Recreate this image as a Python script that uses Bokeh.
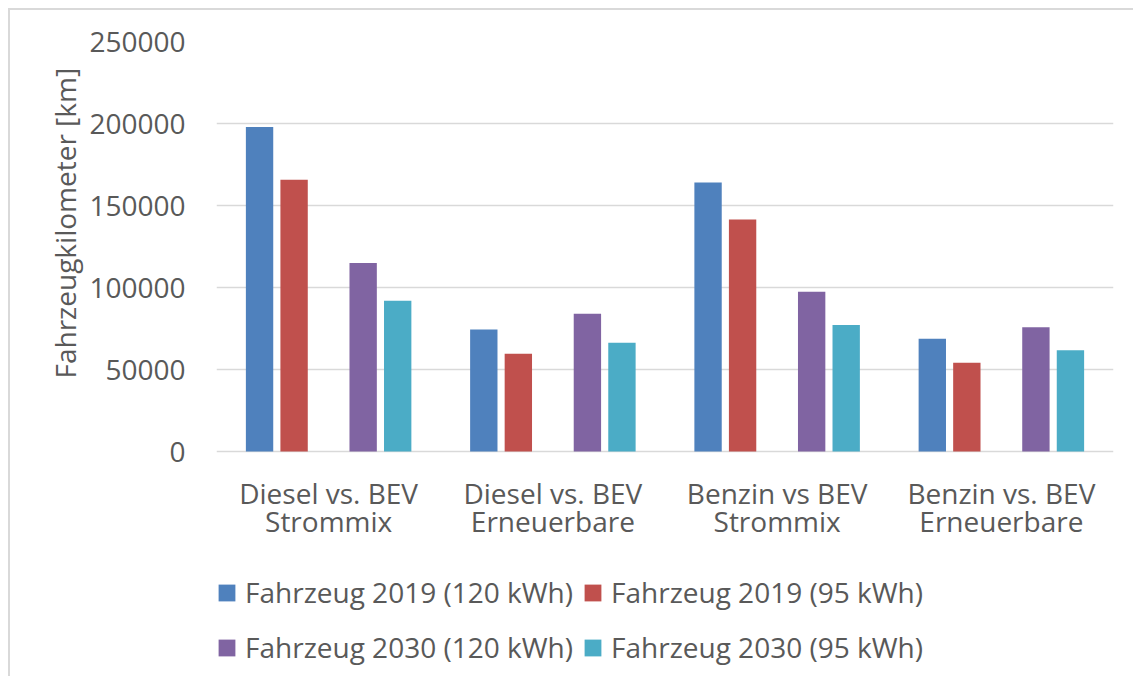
from bokeh.plotting import figure
from bokeh.models import (FactorRange, Range1d, Legend, LegendItem, Title,
                          FixedTicker, NumeralTickFormatter)
from bokeh.transform import dodge
from bokeh.core.properties import value
from bokeh.embed import file_html
from bokeh.resources import INLINE

categories = ["Diesel vs. BEV Strommix", "Diesel vs. BEV Erneuerbare",
              "Benzin vs BEV Strommix", "Benzin vs. BEV Erneuerbare"]
cat_line1 = ["Diesel vs. BEV", "Diesel vs. BEV", "Benzin vs BEV", "Benzin vs. BEV"]
cat_line2 = ["Strommix", "Erneuerbare", "Strommix", "Erneuerbare"]
series_names = ["Fahrzeug 2019 (120 kWh)", "Fahrzeug 2019 (95 kWh)",
                "Fahrzeug 2030 (120 kWh)", "Fahrzeug 2030 (95 kWh)"]
v2019_120 = [197800, 74400, 164000, 68700]
v2019_95 = [165700, 59600, 141500, 54100]
v2030_120 = [115000, 84000, 97400, 75800]
v2030_95 = [91900, 66300, 77200, 61800]
y_ticks = [0, 50000, 100000, 150000, 200000, 250000]
y_title = "Fahrzeugkilometer [km]"

colors = ["#4f81bd", "#c0504d", "#8064a2", "#4bacc6"]
offsets = [-0.308, -0.154, 0.154, 0.308]
FONT = "Open Sans"
TXT = "#595959"

# layout (pixels)
W, H = 1125, 668
B_LEFT, B_RIGHT, B_TOP, B_BOTTOM = 206, 22, 31, 2
ZERO_PX = 410           # distance from frame top to the zero line
frame_h = H - B_TOP - B_BOTTOM
y_max = y_ticks[-1]
y_min = -y_max * (frame_h - ZERO_PX) / ZERO_PX

p = figure(x_range=FactorRange(*categories), y_range=Range1d(y_min, y_max),
           width=W, height=H, output_backend="svg", toolbar_location=None,
           x_axis_location=None,
           min_border_left=B_LEFT, min_border_right=B_RIGHT, min_border_top=B_TOP,
           min_border_bottom=B_BOTTOM)
p.styles = {"margin-left": "8px", "margin-top": "8px",
            "border-top": "2px solid #d9d9d9", "border-left": "2px solid #d9d9d9"}
p.outline_line_color = None
p.background_fill_color = "white"
p.border_fill_color = "white"

data = dict(cat=categories, l1=cat_line1, l2=cat_line2,
            s0=v2019_120, s1=v2019_95, s2=v2030_120, s3=v2030_95)
renderers = []
for i, key in enumerate(["s0", "s1", "s2", "s3"]):
    r = p.vbar(x=dodge("cat", offsets[i], range=p.x_range), top=key, width=0.122,
               source=data, fill_color=colors[i], line_color=None)
    renderers.append(r)

# category labels under the zero line
p.text(x="cat", y=0, text="l1", source=data, y_offset=41,
       text_align="center", text_baseline="alphabetic",
       text_font=value(FONT), text_font_size="28px", text_color=TXT)
p.text(x="cat", y=0, text="l2", source=data, y_offset=69,
       text_align="center", text_baseline="alphabetic",
       text_font=value(FONT), text_font_size="28px", text_color=TXT)

p.xgrid.grid_line_color = None
p.ygrid.grid_line_color = "#d9d9d9"
p.ygrid.grid_line_width = 1.5
p.yaxis.ticker = FixedTicker(ticks=y_ticks)
p.yaxis.formatter = NumeralTickFormatter(format="0")
ax = p.yaxis[0]
ax.axis_line_color = None
ax.major_tick_line_color = None
ax.minor_tick_line_color = None
ax.major_tick_out = 0
ax.major_tick_in = 0
ax.major_label_text_font = FONT
ax.major_label_text_font_size = "28px"
ax.major_label_text_color = TXT
ax.major_label_standoff = 31

ytitle = Title(text=y_title, align="left", offset=298, standoff=6,
               text_font=FONT, text_font_size="28px", text_color=TXT,
               text_font_style="normal")
p.add_layout(ytitle, "left")

legend = Legend(items=[LegendItem(label=series_names[i], renderers=[renderers[i]])
                       for i in range(4)],
                location=(0, 6), orientation="horizontal", ncols=2,
                label_text_font=FONT, label_text_font_size="28px",
                label_text_color=TXT, glyph_width=21, glyph_height=21,
                label_standoff=8, spacing=9, label_height=46, padding=0,
                margin=0, border_line_color=None, background_fill_alpha=0)
p.add_layout(legend, "center")

open("out.html", "w").write(file_html(p, INLINE))
